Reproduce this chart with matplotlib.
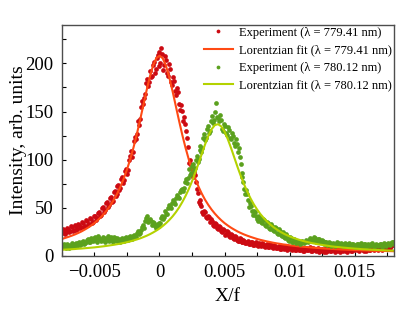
import matplotlib

matplotlib.use("Agg")
import matplotlib.pyplot as plt
import numpy as np
from matplotlib.ticker import FuncFormatter, MultipleLocator

plt.rcParams["font.family"] = ["Liberation Serif", "DejaVu Serif"]

# measured samples: uniform grid -0.0075 .. 0.018 (171 points),
# plus the interleaved samples half a step later (170 points)
X_START, X_STOP, N_EXP = -0.0075, 0.018, 171
HALF_STEP = 0.000075
exp_red = [
    24, 27, 25, 28, 26, 30, 27, 31, 28, 32,
    30, 34, 31, 36, 33, 38, 35, 41, 39, 46,
    43, 51, 48, 56, 53, 61, 57, 67, 64, 74,
    71, 82, 79, 90, 89, 104, 103, 119, 121, 140,
    142, 161, 164, 180, 176, 192, 187, 201, 194, 209,
    197, 216, 193, 208, 190, 199, 181, 186, 171, 174,
    158, 157, 140, 137, 122, 97, 94, 82, 84, 70,
    56, 54, 46, 47, 40, 41, 35, 36, 31, 33,
    28, 30, 25, 27, 23, 25, 20, 22, 18, 20,
    16, 19, 15, 17, 13, 15, 12, 14, 11, 13,
    11, 13, 10, 12, 9, 12, 9, 11, 8, 10,
    8, 10, 7, 9, 7, 10, 7, 9, 6, 8,
    6, 9, 6, 8, 5, 8, 6, 9, 5, 7,
    5, 8, 5, 7, 4, 7, 5, 8, 5, 7,
    4, 7, 5, 8, 5, 7, 4, 8, 5, 8,
    6, 8, 5, 9, 6, 8, 5, 9, 6, 8,
    6, 9, 6, 9, 6, 10, 7, 11, 8, 12,
    13,
]
exp_red_mid = [
    28, 23, 29, 25, 31, 26, 32, 27, 33, 29,
    35, 30, 37, 32, 39, 34, 42, 37, 45, 41,
    50, 46, 55, 51, 60, 56, 66, 62, 73, 69,
    80, 76, 88, 85, 100, 109, 108, 124, 127, 136,
    155, 158, 168, 184, 181, 186, 198, 190, 206, 212,
    200, 210, 198, 204, 187, 194, 178, 182, 167, 170,
    152, 151, 144, 130, 113, 100, 90, 87, 77, 65,
    58, 52, 44, 46, 39, 40, 38, 32, 34, 29,
    31, 26, 28, 22, 26, 21, 23, 19, 21, 17,
    16, 18, 14, 16, 13, 16, 12, 14, 11, 14,
    10, 12, 13, 10, 11, 9, 12, 9, 11, 8,
    9, 7, 10, 8, 9, 6, 8, 7, 9, 6,
    8, 6, 7, 5, 8, 6, 7, 5, 8, 6,
    7, 4, 6, 5, 7, 4, 6, 5, 8, 6,
    5, 6, 4, 7, 6, 5, 7, 6, 5, 7,
    7, 6, 8, 7, 5, 7, 8, 6, 7, 9,
    7, 8, 7, 8, 9, 8, 10, 9, 10, 11,
]
exp_green = [
    9, 12, 8, 11, 9, 13, 10, 13, 10, 14,
    12, 16, 13, 17, 14, 19, 16, 20, 15, 19,
    16, 20, 15, 19, 16, 20, 15, 19, 16, 18,
    15, 19, 16, 20, 17, 21, 18, 22, 20, 26,
    24, 30, 29, 39, 35, 38, 32, 34, 29, 33,
    31, 39, 38, 47, 44, 53, 50, 58, 54, 63,
    60, 69, 67, 77, 76, 90, 86, 95, 91, 104,
    101, 114, 112, 127, 123, 135, 130, 145, 141, 159,
    143, 146, 132, 137, 128, 134, 123, 128, 117, 121,
    108, 103, 82, 77, 64, 64, 51, 52, 43, 46,
    38, 41, 35, 38, 32, 35, 29, 33, 27, 30,
    24, 28, 22, 25, 20, 23, 17, 20, 15, 18,
    13, 16, 12, 16, 13, 17, 14, 19, 16, 20,
    15, 18, 14, 17, 12, 15, 11, 14, 10, 13,
    10, 14, 11, 13, 10, 13, 10, 13, 10, 12,
    9, 12, 10, 13, 10, 12, 9, 12, 10, 13,
    9, 12, 10, 12, 9, 13, 10, 13, 11, 14,
    12,
]
exp_green_mid = [
    11, 9, 12, 8, 11, 9, 12, 10, 13, 11,
    14, 12, 15, 18, 15, 18, 19, 17, 21, 18,
    17, 19, 17, 21, 18, 17, 20, 17, 19, 16,
    18, 17, 19, 18, 20, 19, 21, 21, 24, 23,
    27, 32, 36, 41, 37, 36, 35, 31, 32, 34,
    34, 41, 40, 44, 50, 52, 55, 56, 60, 61,
    66, 70, 71, 80, 81, 84, 93, 89, 100, 98,
    110, 108, 122, 120, 132, 128, 140, 138, 150, 144,
    140, 141, 130, 135, 126, 131, 121, 125, 114, 116,
    112, 96, 86, 70, 68, 58, 55, 47, 47, 42,
    36, 39, 34, 37, 31, 34, 28, 31, 26, 29,
    23, 26, 21, 24, 19, 21, 16, 19, 14, 17,
    14, 15, 13, 15, 14, 16, 17, 18, 17, 19,
    16, 18, 15, 16, 13, 14, 12, 13, 11, 12,
    11, 13, 12, 11, 12, 11, 12, 11, 12, 10,
    11, 12, 10, 11, 12, 11, 10, 11, 12, 11,
    10, 11, 11, 12, 10, 11, 12, 12, 13, 14,
]

# Lorentzian fit curves, grid -0.0075 .. 0.018 step 0.00025
N_FIT = 103
fit_red = [
    17.6, 18.7, 19.8, 21.0, 22.3, 23.8, 25.4, 27.3, 29.3, 31.6,
    34.1, 37.0, 40.3, 44.0, 48.2, 53.0, 58.4, 64.7, 71.9, 80.2,
    89.6, 100.3, 112.4, 125.9, 140.6, 156.0, 171.4, 185.6, 197.4, 205.3,
    208.0,
    205.3, 197.4, 185.6, 171.4, 156.0, 140.6, 125.9, 112.4, 100.3, 89.6,
    80.2, 71.9, 64.7, 58.4, 53.0, 48.2, 44.0, 40.3, 37.0, 34.1,
    31.6, 29.3, 27.3, 25.4, 23.8, 22.3, 21.0, 19.8, 18.7, 17.6,
    16.7, 15.9, 15.1, 14.4, 13.7, 13.1, 12.6, 12.0, 11.6, 11.1,
    10.7, 10.3, 9.9, 9.6, 9.3, 9.0, 8.7, 8.4, 8.2, 7.9,
    7.7, 7.5, 7.3, 7.1, 6.9, 6.7, 6.6, 6.4, 6.3, 6.1,
    6.0, 5.9, 5.8, 5.7, 5.5, 5.4, 5.3, 5.2, 5.2, 5.1,
    5.0, 4.9,
]
fit_green = [
    6.4, 6.6, 6.8, 7.0, 7.2, 7.5, 7.7, 8.0, 8.3, 8.6,
    8.9, 9.3, 9.7, 10.1, 10.6, 11.1, 11.6, 12.2, 12.8, 13.5,
    14.3, 15.1, 16.1, 17.1, 18.2, 19.5, 20.9, 22.5, 24.3, 26.3,
    28.5, 31.1, 34.0, 37.3, 41.0, 45.3, 50.2, 55.9, 62.3, 69.5,
    77.6, 86.5, 96.1, 106.0, 115.8, 124.6, 131.6, 135.9, 136.9, 134.5,
    129.1, 121.2, 112.0, 102.1, 92.2, 82.9, 74.3, 66.5, 59.6, 53.5,
    48.2, 43.5, 39.5, 35.9, 32.8, 30.0, 27.6, 25.4, 23.5, 21.8,
    20.3, 19.0, 17.8, 16.7, 15.7, 14.8, 14.0, 13.2, 12.6, 11.9,
    11.4, 10.9, 10.4, 9.9, 9.5, 9.2, 8.8, 8.5, 8.2, 7.9,
    7.6, 7.4, 7.1, 6.9, 6.7, 6.5, 6.4, 6.2, 6.0, 5.9,
    5.7, 5.6, 5.5,
]

labels = [
    "Experiment (λ = 779.41 nm)",
    "Lorentzian fit (λ = 779.41 nm)",
    "Experiment (λ = 780.12 nm)",
    "Lorentzian fit (λ = 780.12 nm)",
]

x_exp = np.concatenate([
    np.linspace(X_START, X_STOP, N_EXP),
    np.linspace(X_START + HALF_STEP, X_STOP - HALF_STEP, N_EXP - 1),
])
y_red = np.concatenate([exp_red, exp_red_mid])
y_green = np.concatenate([exp_green, exp_green_mid])
x_fit = np.linspace(X_START, X_STOP, N_FIT)

fig = plt.figure(figsize=(4.15, 3.11), dpi=100)
ax = fig.add_axes([0.149, 0.177, 0.800, 0.743])

ax.plot(x_exp, y_red, "o", ms=3.4, mew=0, color="#cc0a12", label=labels[0])
ax.plot(x_fit, fit_red, "-", lw=1.5, color="#ff4a14", label=labels[1])
ax.plot(x_exp, y_green, "o", ms=3.4, mew=0, color="#5ba11e", label=labels[2])
ax.plot(x_fit, fit_green, "-", lw=1.5, color="#b4d200", label=labels[3])

ax.set_xlim(-0.0075, 0.018)
ax.set_ylim(0, 240)
ax.xaxis.set_major_locator(MultipleLocator(0.005))
ax.xaxis.set_minor_locator(MultipleLocator(0.0025))
ax.yaxis.set_major_locator(MultipleLocator(50))
ax.yaxis.set_minor_locator(MultipleLocator(25))
ax.xaxis.set_major_formatter(FuncFormatter(lambda v, p: f"{v:g}".replace("-", "\u2212")))
ax.tick_params(which="both", direction="in", length=3, width=0.8, labelsize=13.5, pad=6)
for s in ax.spines.values():
    s.set_color("0.3")
    s.set_linewidth(1.0)

ax.set_xlabel("X/f", fontsize=14, labelpad=5)
ax.set_ylabel("Intensity, arb. units", fontsize=14, labelpad=-1)

ax.legend(loc="upper right", frameon=False, fontsize=9, markerscale=0.8,
          handlelength=2.3, handletextpad=0.5, labelspacing=0.45,
          borderpad=0.1, borderaxespad=0.05)

fig.savefig("out.png", dpi=100)
